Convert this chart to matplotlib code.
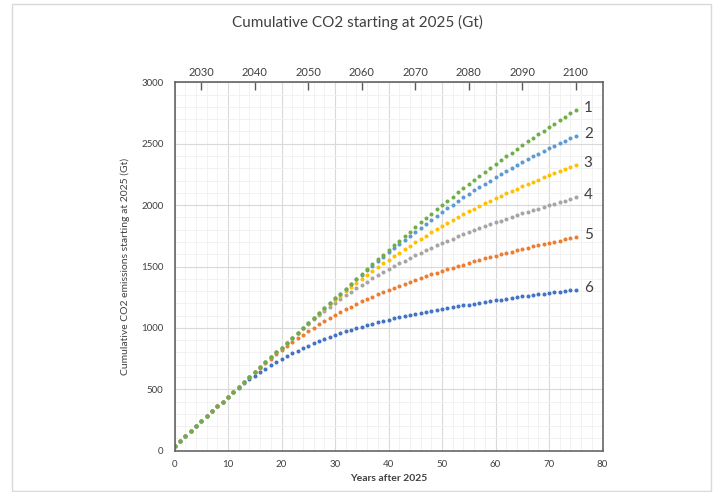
import matplotlib
matplotlib.use("Agg")
import matplotlib.pyplot as plt
from matplotlib.patches import Rectangle
from matplotlib.ticker import MultipleLocator

plt.rcParams['font.family'] = ['Lato', 'DejaVu Sans']

# Years after 2025
years = list(range(0, 76))

# Cumulative CO2 emissions from 2025 (Gt) per scenario
scenario_1 = [40, 80, 120, 160, 200, 240, 280, 320, 360, 400,
              440, 480, 520, 560, 600, 640, 680, 720, 760, 800,
              840, 880, 920, 960, 1000, 1040, 1080, 1120, 1160, 1200,
              1240, 1280, 1320, 1360, 1400, 1440, 1480, 1519, 1558, 1597,
              1635, 1673, 1711, 1748, 1785, 1822, 1859, 1895, 1930, 1966,
              2001, 2036, 2070, 2104, 2138, 2172, 2205, 2238, 2270, 2303,
              2334, 2366, 2397, 2428, 2459, 2489, 2519, 2548, 2578, 2607,
              2635, 2664, 2692, 2719, 2747, 2774]
scenario_2 = [40, 80, 120, 160, 200, 240, 280, 320, 360, 400,
              440, 480, 520, 560, 600, 640, 680, 720, 760, 800,
              840, 880, 920, 960, 1000, 1040, 1080, 1120, 1160, 1200,
              1240, 1280, 1319, 1357, 1395, 1433, 1470, 1507, 1543, 1579,
              1615, 1650, 1684, 1718, 1752, 1785, 1817, 1850, 1881, 1913,
              1943, 1974, 2004, 2033, 2062, 2091, 2119, 2146, 2173, 2200,
              2226, 2252, 2277, 2302, 2326, 2350, 2374, 2397, 2419, 2441,
              2463, 2484, 2505, 2525, 2545, 2564]
scenario_3 = [40, 80, 120, 160, 200, 240, 280, 320, 360, 400,
              440, 480, 520, 560, 600, 640, 680, 720, 760, 800,
              840, 880, 920, 960, 1000, 1039, 1078, 1116, 1154, 1191,
              1227, 1262, 1298, 1332, 1366, 1399, 1431, 1463, 1495, 1525,
              1555, 1585, 1614, 1642, 1670, 1698, 1725, 1752, 1778, 1804,
              1830, 1855, 1879, 1903, 1926, 1949, 1972, 1993, 2015, 2036,
              2056, 2077, 2096, 2116, 2135, 2154, 2172, 2190, 2208, 2226,
              2243, 2261, 2278, 2294, 2311, 2327]
scenario_4 = [40, 80, 120, 160, 200, 240, 280, 320, 360, 400,
              440, 480, 520, 560, 600, 640, 680, 720, 760, 800,
              840, 880, 920, 959, 997, 1034, 1070, 1105, 1139, 1172,
              1204, 1235, 1265, 1294, 1323, 1350, 1377, 1403, 1429, 1454,
              1478, 1502, 1525, 1547, 1569, 1591, 1612, 1632, 1652, 1672,
              1691, 1710, 1728, 1745, 1763, 1780, 1797, 1813, 1829, 1844,
              1859, 1874, 1889, 1903, 1917, 1932, 1945, 1959, 1972, 1986,
              1999, 2012, 2025, 2037, 2050, 2063]
scenario_5 = [40, 80, 120, 160, 200, 240, 280, 320, 360, 400,
              440, 480, 520, 560, 600, 639, 677, 714, 750, 785,
              819, 852, 884, 915, 945, 974, 1002, 1029, 1055, 1080,
              1105, 1128, 1151, 1173, 1195, 1216, 1236, 1255, 1274, 1293,
              1311, 1328, 1345, 1361, 1377, 1392, 1407, 1422, 1436, 1449,
              1463, 1477, 1490, 1503, 1516, 1529, 1542, 1554, 1566, 1577,
              1589, 1600, 1611, 1622, 1633, 1643, 1654, 1664, 1674, 1683,
              1693, 1702, 1711, 1721, 1730, 1739]
scenario_6 = [40, 80, 120, 160, 200, 240, 280, 320, 360, 400,
              440, 478, 514, 548, 580, 610, 639, 667, 694, 720,
              745, 769, 792, 814, 835, 855, 874, 892, 910, 926,
              942, 957, 972, 985, 999, 1011, 1023, 1035, 1046, 1057,
              1067, 1077, 1086, 1096, 1105, 1113, 1122, 1130, 1138, 1146,
              1154, 1161, 1169, 1176, 1183, 1190, 1197, 1204, 1211, 1218,
              1224, 1231, 1237, 1244, 1250, 1256, 1262, 1268, 1274, 1279,
              1285, 1290, 1296, 1301, 1306, 1311]

series_labels = ["6", "5", "4", "3", "2", "1"]
series_colors = ["#4472C4", "#ED7D31", "#A5A5A5", "#FFC000", "#5B9BD5", "#70AD47"]
series_values = [scenario_6, scenario_5, scenario_4, scenario_3, scenario_2, scenario_1]

top_years = [2030, 2040, 2050, 2060, 2070, 2080, 2090, 2100]
base_year = 2025

fig = plt.figure(figsize=(7.2, 4.92), dpi=100)
fig.patches.append(Rectangle((12 / 720, 1 / 492), 699 / 720, 487 / 492,
                             transform=fig.transFigure, fill=False,
                             edgecolor="#d9d9d9", linewidth=1.0))

ax = fig.add_axes([174.5 / 720, 1 - 450.7 / 492, 428 / 720, 368.4 / 492])
ax.set_xlim(0, 80)
ax.set_ylim(0, 3000)

ax.xaxis.set_major_locator(MultipleLocator(10))
ax.xaxis.set_minor_locator(MultipleLocator(2))
ax.yaxis.set_major_locator(MultipleLocator(500))
ax.yaxis.set_minor_locator(MultipleLocator(100))
ax.grid(which="major", color="#d9d9d9", linewidth=0.8)
ax.grid(which="minor", color="#f0f0f0", linewidth=0.6)
ax.set_axisbelow(True)

for side in ["left", "bottom", "top", "right"]:
    ax.spines[side].set_color("#595959")
    ax.spines[side].set_linewidth(1.1)

ax.tick_params(which="both", length=0, labelsize=7, labelcolor="#404040")
ax.tick_params(axis="y", pad=8)
ax.tick_params(axis="x", pad=7)

for vals, col, lab in zip(series_values, series_colors, series_labels):
    ax.plot(years, vals, linestyle="none", marker="o", markersize=2.9,
            markeredgewidth=0, color=col)
    ax.annotate(lab, xy=(years[-1], vals[-1]), xytext=(9, 1.5),
                textcoords="offset points", ha="center", va="center",
                fontsize=11, color="#404040")

sec = ax.secondary_xaxis("top", functions=(lambda t: t + base_year,
                                           lambda y: y - base_year))
sec.set_xticks(top_years)
sec.tick_params(direction="in", length=6, width=1.0, color="#595959",
                labelsize=8, labelcolor="#404040", pad=3)
sec.spines["top"].set_visible(False)

ax.set_xlabel("Years after 2025", fontsize=7.5, fontweight="bold",
              color="#404040", labelpad=3)
ax.set_ylabel("Cumulative CO2 emissions starting at 2025 (Gt)", fontsize=7.5,
              color="#404040", labelpad=8)

fig.text(0.497, 1 - 22 / 492, "Cumulative CO2 starting at 2025 (Gt)",
         ha="center", va="center", fontsize=11, color="#404040")

fig.savefig("out.png", dpi=100)
